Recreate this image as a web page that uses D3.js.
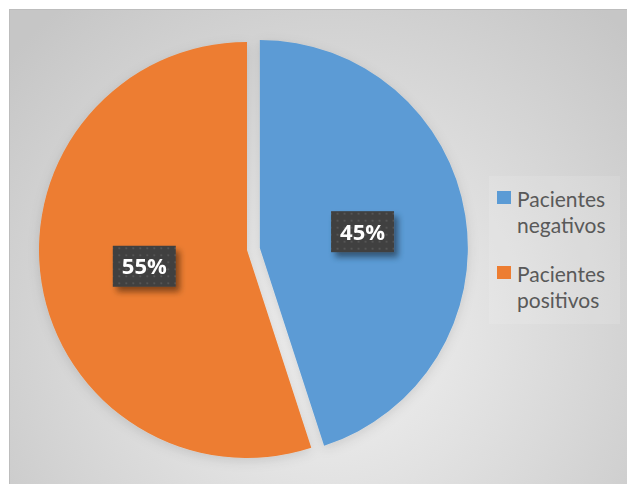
<!DOCTYPE html>
<html>
<head>
<meta charset="utf-8">
<script src="https://cdn.jsdelivr.net/npm/d3@7"></script>
<style>
  html, body { margin: 0; padding: 0; background: #ffffff; }
  svg { display: block; }
</style>
</head>
<body>
<svg id="chart" width="627" height="484"></svg>
<script>
// Patient test results
const categories = ["Pacientes negativos", "Pacientes positivos"];
const values = [45, 55];
const colors = ["#5b9bd5", "#ed7d31"];
const valueLabels = ["45%", "55%"];

const W = 627, H = 484;
const svg = d3.select("#chart");
const defs = svg.append("defs");

// Chart area background: soft radial grey gradient
const bg = defs.append("radialGradient").attr("id", "bgGrad")
  .attr("gradientUnits", "userSpaceOnUse")
  .attr("cx", 330).attr("cy", 330).attr("r", 420);
bg.append("stop").attr("offset", "0%").attr("stop-color", "#f3f3f3");
bg.append("stop").attr("offset", "100%").attr("stop-color", "#c6c6c6");

// Dotted dark fill for value boxes
const pat = defs.append("pattern").attr("id", "dots")
  .attr("patternUnits", "userSpaceOnUse").attr("width", 7).attr("height", 7);
pat.append("rect").attr("width", 7).attr("height", 7).attr("fill", "#3f3f3f");
pat.append("rect").attr("x", 2).attr("y", 2).attr("width", 2).attr("height", 2).attr("fill", "#545454");

// Shadows
const sh = defs.append("filter").attr("id", "boxShadow")
  .attr("x", "-30%").attr("y", "-30%").attr("width", "170%").attr("height", "170%");
sh.append("feDropShadow").attr("dx", 4).attr("dy", 5).attr("stdDeviation", 3)
  .attr("flood-color", "#000").attr("flood-opacity", 0.45);

const pieSh = defs.append("filter").attr("id", "pieShadow")
  .attr("x", "-20%").attr("y", "-20%").attr("width", "140%").attr("height", "140%");
pieSh.append("feDropShadow").attr("dx", 0).attr("dy", 3).attr("stdDeviation", 6)
  .attr("flood-color", "#000").attr("flood-opacity", 0.12);

svg.append("rect")
  .attr("x", 9.5).attr("y", 9.5).attr("width", W + 10).attr("height", H + 10)
  .attr("fill", "url(#bgGrad)").attr("stroke", "#bdbdbd").attr("stroke-width", 1);

// Pie
const cx = 247, cy = 250, radius = 208, explode = 13;
const pie = d3.pie().sort(null).value(d => d)(values);
const arc = d3.arc().innerRadius(0).outerRadius(radius);

const slices = svg.append("g").attr("filter", "url(#pieShadow)")
  .selectAll("g").data(pie).join("g")
  .attr("transform", (d, i) => {
    const mid = (d.startAngle + d.endAngle) / 2;
    const off = i === 0 ? explode : 0;
    return `translate(${cx + Math.sin(mid) * off},${cy - Math.cos(mid) * off})`;
  });

slices.append("path")
  .attr("d", arc)
  .attr("fill", (d, i) => colors[i]);

// Value label boxes
const labelArc = d3.arc().innerRadius(radius * 0.5).outerRadius(radius * 0.5);
const boxW = 63, boxH = 41;
slices.each(function (d, i) {
  const g = d3.select(this);
  const [lx, ly] = labelArc.centroid(d);
  const lg = g.append("g").attr("transform", `translate(${lx},${ly})`);
  lg.append("rect")
    .attr("x", -boxW / 2).attr("y", -boxH / 2)
    .attr("width", boxW).attr("height", boxH)
    .attr("fill", "url(#dots)")
    .attr("filter", "url(#boxShadow)");
  lg.append("text")
    .attr("text-anchor", "middle").attr("dy", "0.36em")
    .attr("font-family", "'Open Sans', Lato, sans-serif")
    .attr("font-weight", "bold").attr("font-size", 22)
    .attr("fill", "#ffffff")
    .text(valueLabels[i]);
});

// Legend
const legend = svg.append("g").attr("transform", "translate(489,176)");
legend.append("rect").attr("width", 131).attr("height", 148)
  .attr("fill", "#ffffff").attr("opacity", 0.12);
const item = legend.selectAll("g.item").data(categories).join("g")
  .attr("class", "item")
  .attr("transform", (d, i) => `translate(0,${15 + i * 75})`);
item.append("rect").attr("x", 8).attr("y", 0).attr("width", 14).attr("height", 13)
  .attr("fill", (d, i) => colors[i]);
item.each(function (d) {
  const words = d.split(" ");
  const t = d3.select(this).append("text")
    .attr("font-family", "Lato, 'Open Sans', sans-serif")
    .attr("font-size", 21).attr("fill", "#595959");
  words.forEach((w, k) => {
    t.append("tspan").attr("x", 28).attr("y", 16 + k * 26).text(w);
  });
});
</script>
</body>
</html>
